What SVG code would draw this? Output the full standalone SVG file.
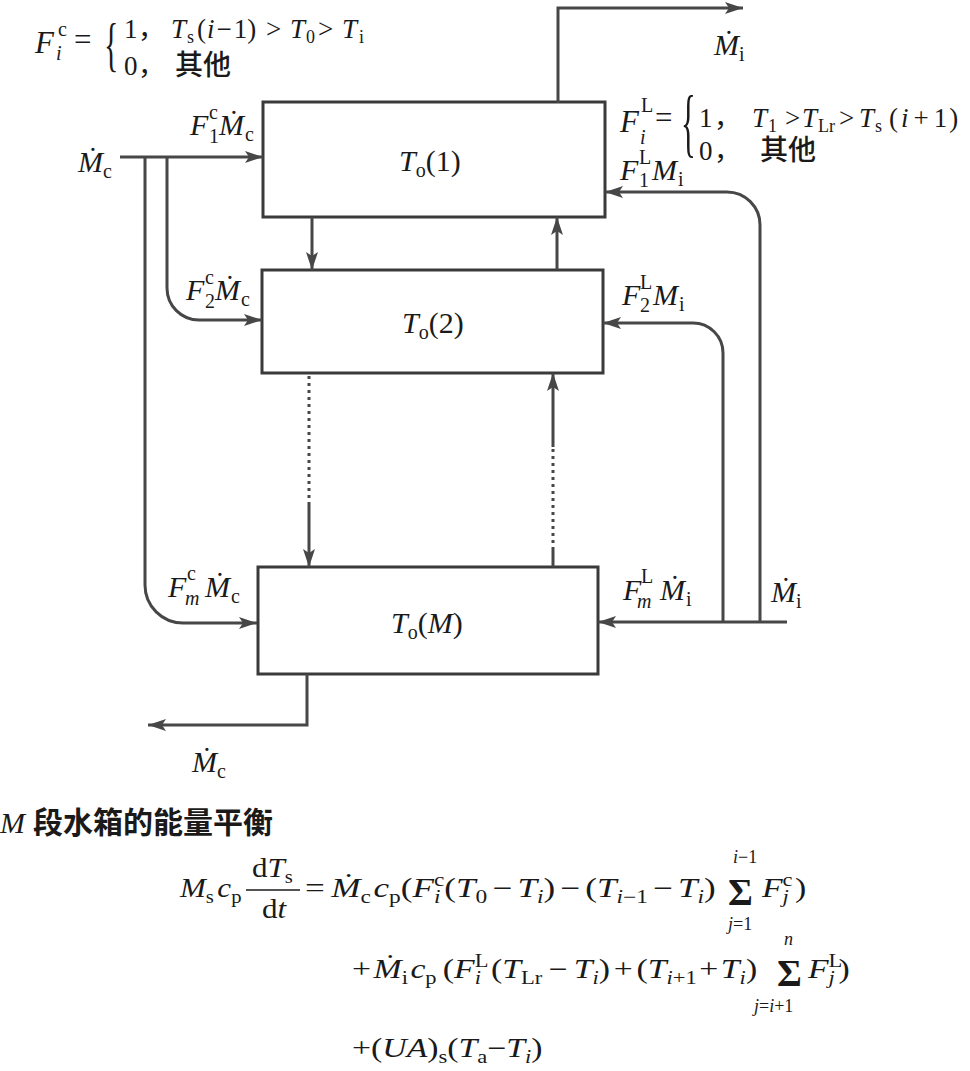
<svg xmlns="http://www.w3.org/2000/svg" width="970" height="1071" viewBox="0 0 970 1071">
<defs>
<style>
.t{font-family:"Liberation Serif","DejaVu Serif",serif;fill:#1a1a1a}
.i{font-style:italic}
.k{font-family:"Noto Sans CJK SC",sans-serif;fill:#1a1a1a}
.b{font-weight:bold}
.m{font-weight:500}
.box{fill:#fff;stroke:#3a3a3a;stroke-width:3}
.ln{fill:none;stroke:#474747;stroke-width:3}
.dot{fill:none;stroke:#474747;stroke-width:3;stroke-dasharray:3 4}
.ar{marker-end:url(#ah)}
</style>
<marker id="ah" markerUnits="userSpaceOnUse" markerWidth="20" markerHeight="14" refX="18" refY="7" orient="auto"><path d="M0,1 L18,7 L0,13 L4,7 z" fill="#474747"/></marker>
</defs>
<rect width="970" height="1071" fill="#fff"/>

<g id="box1"><rect class="box" x="263" y="102" width="342" height="115"/>
<text class="t" y="171" font-size="30"><tspan x="399" class="i">T</tspan><tspan font-size="20" dy="6">o</tspan><tspan dy="-6">(1)</tspan></text></g>
<g id="box2"><rect class="box" x="262" y="270" width="341" height="103"/>
<text class="t" y="333" font-size="30"><tspan x="402" class="i">T</tspan><tspan font-size="20" dy="6">o</tspan><tspan dy="-6">(2)</tspan></text></g>
<g id="box3"><rect class="box" x="258" y="567" width="340" height="107"/>
<text class="t" y="633" font-size="30"><tspan x="391" class="i">T</tspan><tspan font-size="20" dy="6">o</tspan><tspan dy="-6">(</tspan><tspan class="i">M</tspan><tspan>)</tspan></text></g>

<g id="connectors">
<path class="ln ar" d="M120,157 H263"/>
<path class="ln ar" d="M145,157 V585 A38,38 0 0 0 183,623 H257"/>
<path class="ln ar" d="M167,157 V288 A32,32 0 0 0 199,320 H262"/>
<path class="ln ar" d="M787,622 H598"/>
<path class="ln ar" d="M760,622 V225 A33,33 0 0 0 727,192 H605"/>
<path class="ln ar" d="M723,622 V353 A30,30 0 0 0 693,323 H603"/>
<path class="ln ar" d="M558,103 V8 H743"/>
<path class="ln ar" d="M307,674 V725 H148"/>
<path class="ln ar" d="M312,217 V270"/>
<path class="ln ar" d="M557,270 V217"/>
<path class="dot" d="M309,376 V503"/>
<path class="ln ar" d="M309,503 V567"/>
<path class="ln" d="M553,567 V550"/>
<path class="dot" d="M553,550 V447"/>
<path class="ln ar" d="M553,447 V373"/>
</g>

<g id="labels">
<text class="t" font-size="30"><tspan class="i" x="190" y="135">F</tspan><tspan font-size="20" x="209" y="119">c</tspan><tspan font-size="20" x="209" y="143">1</tspan><tspan class="i" x="219" y="135">Ṁ</tspan><tspan font-size="20" x="245" y="141">c</tspan></text>
<text class="t" font-size="30"><tspan class="i" x="186" y="300">F</tspan><tspan font-size="20" x="205" y="284">c</tspan><tspan font-size="20" x="205" y="308">2</tspan><tspan class="i" x="215" y="300">Ṁ</tspan><tspan font-size="20" x="241" y="306">c</tspan></text>
<text class="t" font-size="30"><tspan class="i" x="168" y="597">F</tspan><tspan font-size="20" x="187" y="580">c</tspan><tspan class="i" font-size="20" x="185" y="605">m</tspan><tspan class="i" x="205" y="597">Ṁ</tspan><tspan font-size="20" x="231" y="603">c</tspan></text>
<text class="t" font-size="30"><tspan class="i" x="192" y="772">Ṁ</tspan><tspan font-size="20" x="217" y="778">c</tspan></text>
<text class="t" font-size="30"><tspan class="i" x="78" y="172">Ṁ</tspan><tspan font-size="20" x="103" y="178">c</tspan></text>
<text class="t" font-size="30"><tspan class="i" x="714" y="55">Ṁ</tspan><tspan font-size="20" x="739" y="61">i</tspan></text>
<text class="t" font-size="30"><tspan class="i" x="620" y="180">F</tspan><tspan font-size="20" x="639" y="164">L</tspan><tspan font-size="20" x="639" y="187">1</tspan><tspan class="i" x="652" y="180">M</tspan><tspan font-size="20" x="678" y="186">i</tspan></text>
<text class="t" font-size="30"><tspan class="i" x="622" y="305">F</tspan><tspan font-size="20" x="640" y="289">L</tspan><tspan font-size="20" x="640" y="312">2</tspan><tspan class="i" x="653" y="305">M</tspan><tspan font-size="20" x="679" y="311">i</tspan></text>
<text class="t" font-size="30"><tspan class="i" x="623" y="600">F</tspan><tspan font-size="20" x="641" y="583">L</tspan><tspan class="i" font-size="20" x="637" y="608">m</tspan><tspan class="i" x="660" y="600">Ṁ</tspan><tspan font-size="20" x="686" y="606">i</tspan></text>
<text class="t" font-size="30"><tspan class="i" x="771" y="602">Ṁ</tspan><tspan font-size="20" x="796" y="608">i</tspan></text>
</g>

<g id="cond-c">
<text class="t" font-size="31"><tspan class="i" x="35" y="53">F</tspan><tspan font-size="20" x="58" y="36">c</tspan><tspan class="i" font-size="20" x="56" y="60">i</tspan><tspan x="74" y="50">=</tspan></text>
<text class="t" font-size="40" transform="translate(104,64) scale(0.75,1.5)">{</text>
<text class="t" y="38" font-size="27"><tspan x="124">1</tspan><tspan x="138" class="k">，</tspan><tspan x="171" class="i">T</tspan><tspan x="187" y="43" font-size="18">s</tspan><tspan x="197" y="38">(</tspan><tspan class="i" dx="1">i</tspan><tspan dx="2">−</tspan><tspan dx="2">1)</tspan><tspan x="266">&gt;</tspan><tspan x="290" class="i">T</tspan><tspan x="306" y="43" font-size="18">0</tspan><tspan x="318" y="38">&gt;</tspan><tspan x="342" class="i">T</tspan><tspan x="359" y="43" font-size="18">i</tspan></text>
<text class="t" y="75" font-size="27"><tspan x="124">0</tspan><tspan x="138" class="k">，</tspan><tspan x="175" class="k m" font-size="28">其他</tspan></text>
</g>

<g id="cond-l">
<text class="t" font-size="31"><tspan class="i" x="620" y="132">F</tspan><tspan font-size="20" x="641" y="112">L</tspan><tspan class="i" font-size="20" x="640" y="144">i</tspan><tspan x="655" y="128">=</tspan></text>
<text class="t" font-size="44" transform="translate(681,148) scale(0.7,1.75)">{</text>
<text class="t" y="127" font-size="27"><tspan x="699">1</tspan><tspan x="714" class="k">，</tspan><tspan x="752" class="i">T</tspan><tspan x="768" y="132" font-size="18">1</tspan><tspan x="785" y="127">&gt;</tspan><tspan x="802" class="i">T</tspan><tspan x="818" y="132" font-size="18">Lr</tspan><tspan x="839" y="127">&gt;</tspan><tspan x="859" class="i">T</tspan><tspan x="875" y="132" font-size="18">s</tspan><tspan x="889" y="127">(</tspan><tspan class="i" dx="3">i</tspan><tspan dx="5">+</tspan><tspan dx="5">1</tspan><tspan dx="2">)</tspan></text>
<text class="t" y="160" font-size="27"><tspan x="699">0</tspan><tspan x="714" class="k">，</tspan><tspan x="760" class="k m" font-size="28">其他</tspan></text>
</g>

<g id="equation">
<text class="t i" x="0" y="833" font-size="30">M</text><text class="k b" x="33" y="833" font-size="30">段水箱的能量平衡</text>
<g transform="translate(180,897) scale(1.15,1)"><text class="t" font-size="27"><tspan class="i">M</tspan><tspan font-size="18" dy="6">s</tspan><tspan class="i" dx="3" dy="-6">c</tspan><tspan font-size="18" dy="6">p</tspan></text></g>
<g transform="translate(252,877) scale(1.15,1)"><text class="t" font-size="27">d<tspan class="i">T</tspan><tspan font-size="18" dy="6">s</tspan></text></g>
<line x1="246" y1="890" x2="300" y2="890" stroke="#1a1a1a" stroke-width="1.5"/>
<g transform="translate(262,918) scale(1.15,1)"><text class="t" font-size="27">d<tspan class="i">t</tspan></text></g>
<g transform="translate(305,897) scale(1.3,1)"><text class="t" font-size="27">=<tspan class="i" dx="5">Ṁ</tspan><tspan font-size="18" dy="6">c</tspan><tspan class="i" dx="2" dy="-6">c</tspan><tspan font-size="18" dy="6">p</tspan><tspan dy="-6">(</tspan><tspan class="i">F</tspan><tspan font-size="18" dy="-11">c</tspan><tspan font-size="18" class="i" dx="-8" dy="17">i</tspan><tspan dx="3" dy="-6">(</tspan><tspan class="i">T</tspan><tspan font-size="18" dy="6">0</tspan><tspan dx="4" dy="-6">−</tspan><tspan class="i" dx="4">T</tspan><tspan class="i" font-size="18" dy="6">i</tspan><tspan dy="-6">)</tspan><tspan dx="4">−</tspan><tspan dx="4">(</tspan><tspan class="i">T</tspan><tspan font-size="18" dy="6"><tspan class="i">i</tspan>−1</tspan><tspan dx="4" dy="-6">−</tspan><tspan class="i" dx="4">T</tspan><tspan class="i" font-size="18" dy="6">i</tspan><tspan dy="-6">)</tspan></text></g>
<text class="t b" x="728" y="905" font-size="38">Σ</text>
<text class="t" x="733" y="863" font-size="18"><tspan class="i">i</tspan>−1</text>
<text class="t" x="728" y="930" font-size="18"><tspan class="i">j</tspan>=1</text>
<g transform="translate(762,897) scale(1.25,1)"><text class="t" font-size="27"><tspan class="i">F</tspan><tspan font-size="18" dy="-11">c</tspan><tspan class="i" font-size="18" dx="-8" dy="17">j</tspan><tspan dx="5" dy="-6">)</tspan></text></g>

<g transform="translate(352,978) scale(1.25,1)"><text class="t" font-size="27">+<tspan class="i" dx="2">Ṁ</tspan><tspan font-size="18" dy="6">i</tspan><tspan class="i" dx="2" dy="-6">c</tspan><tspan font-size="18" dy="6">p</tspan><tspan dx="5" dy="-6">(</tspan><tspan class="i">F</tspan><tspan font-size="18" dy="-11">L</tspan><tspan font-size="18" class="i" dx="-11" dy="17">i</tspan><tspan dx="8" dy="-6">(</tspan><tspan class="i">T</tspan><tspan font-size="18" dy="6">Lr</tspan><tspan dx="5" dy="-6">−</tspan><tspan class="i" dx="5">T</tspan><tspan class="i" font-size="18" dy="6">i</tspan><tspan dy="-6">)</tspan><tspan dx="3">+</tspan><tspan dx="3">(</tspan><tspan class="i">T</tspan><tspan font-size="18" dy="6"><tspan class="i">i</tspan>+1</tspan><tspan dx="2" dy="-6">+</tspan><tspan class="i" dx="2">T</tspan><tspan class="i" font-size="18" dy="6">i</tspan><tspan dy="-6">)</tspan></text></g>
<text class="t b" x="777" y="986" font-size="38">Σ</text>
<text class="t i" x="784" y="945" font-size="18">n</text>
<text class="t" x="754" y="1012" font-size="18"><tspan class="i">j</tspan>=<tspan class="i">i</tspan>+1</text>
<g transform="translate(808,978) scale(1.25,1)"><text class="t" font-size="27"><tspan class="i">F</tspan><tspan font-size="18" dy="-11">L</tspan><tspan class="i" font-size="18" dx="-11" dy="17">j</tspan><tspan dx="3" dy="-6">)</tspan></text></g>

<g transform="translate(352,1057) scale(1.25,1)"><text class="t" font-size="27">+(<tspan class="i">UA</tspan>)<tspan font-size="18" dy="6">s</tspan><tspan dy="-6">(</tspan><tspan class="i">T</tspan><tspan font-size="18" dy="6">a</tspan><tspan dy="-6">−</tspan><tspan class="i">T</tspan><tspan class="i" font-size="18" dy="6">i</tspan><tspan dy="-6">)</tspan></text></g>
</g>
</svg>
